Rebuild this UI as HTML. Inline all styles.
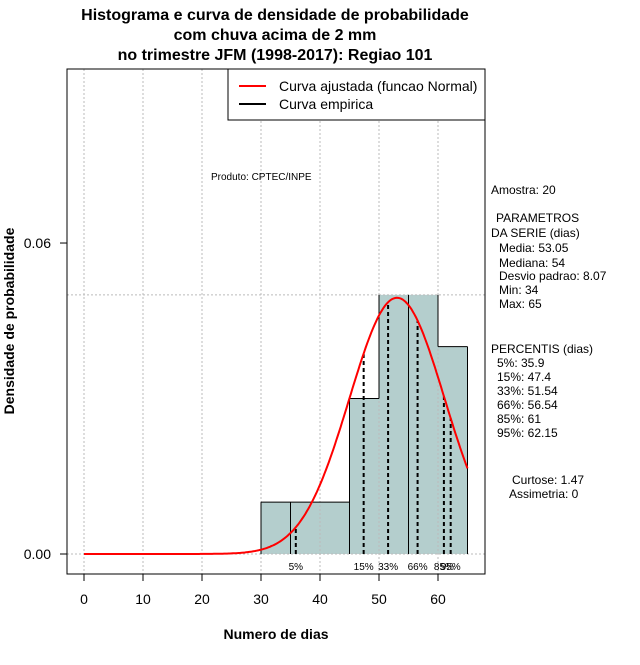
<!DOCTYPE html>
<html><head><meta charset="utf-8"><style>
body{margin:0;background:#fff;}
svg text{font-family:"Liberation Sans",sans-serif;}
</style></head><body>
<svg width="640" height="660" xmlns="http://www.w3.org/2000/svg">
<g id="bars"></g>
<g id="grid"></g>
<g id="edges"></g>
<g id="pct"></g>
<path id="curve" fill="none" stroke="#ff0000" stroke-width="2"/>
<rect x="67" y="69" width="418" height="505" fill="none" stroke="#000"/>
<g id="axes"></g>
<g font-weight="bold" font-size="16" text-anchor="middle">
<text x="275" y="20">Histograma e curva de densidade de probabilidade</text>
<text x="275" y="40">com chuva acima de 2 mm</text>
<text x="275" y="60">no trimestre JFM (1998-2017): Regiao 101</text>
</g>
<text x="276" y="639" font-size="14" font-weight="bold" text-anchor="middle">Numero de dias</text>
<text transform="translate(14,321) rotate(-90)" font-size="14" font-weight="bold" text-anchor="middle">Densidade de probabilidade</text>
<g>
<rect x="228" y="69" width="257" height="51" fill="#fff" stroke="#000"/>
<line x1="239" y1="86" x2="266" y2="86" stroke="#ff0000" stroke-width="2"/>
<line x1="239" y1="104" x2="266" y2="104" stroke="#000" stroke-width="2"/>
<text x="279" y="91" font-size="14">Curva ajustada (funcao Normal)</text>
<text x="279" y="109" font-size="14">Curva empirica</text>
</g>
<text x="211" y="180" font-size="10">Produto: CPTEC/INPE</text>
<g font-size="12">
<text x="491" y="194">Amostra: 20</text>
<text x="496" y="222">PARAMETROS</text>
<text x="491" y="237">DA SERIE (dias)</text>
<text x="499" y="252">Media: 53.05</text>
<text x="499" y="267">Mediana: 54</text>
<text x="499" y="280">Desvio padrao: 8.07</text>
<text x="499" y="294">Min: 34</text>
<text x="499" y="308">Max: 65</text>
<text x="491" y="353">PERCENTIS (dias)</text>
<text x="497" y="367">5%: 35.9</text>
<text x="497" y="381">15%: 47.4</text>
<text x="497" y="395">33%: 51.54</text>
<text x="497" y="409">66%: 56.54</text>
<text x="497" y="423">85%: 61</text>
<text x="497" y="437">95%: 62.15</text>
<text x="512" y="484">Curtose: 1.47</text>
<text x="509" y="498">Assimetria: 0</text>
</g>
</svg>
<script>
const binStarts=[30,35,40,45,50,55,60];
const binDens=[0.01,0.01,0.01,0.03,0.05,0.05,0.04];
const binWidth=5;
const pctValues=[35.9,47.4,51.54,56.54,61,62.15];
const pctLabels=["5%","15%","33%","66%","85%","95%"];
const xTicks=[0,10,20,30,40,50,60];
const yTicks=[0,0.06];
const yTickLabels=["0.00","0.06"];
const mean=53.05, sd=8.07;
const NS="http://www.w3.org/2000/svg";
const X=v=>84+v*5.9, Y=v=>554-v*5183;
const pdf=v=>Math.exp(-0.5*((v-mean)/sd)**2)/(sd*Math.sqrt(2*Math.PI));
function mk(p,t,a){const e=document.createElementNS(NS,t);for(const k in a)e.setAttribute(k,a[k]);p.appendChild(e);return e;}
const bars=document.getElementById('bars');
binStarts.forEach((s,i)=>{const r=mk(bars,'rect',{x:X(s),y:Y(binDens[i]),width:X(s+binWidth)-X(s),height:Y(0)-Y(binDens[i]),fill:'#b4cecd',stroke:'none'});

});
const grid=document.getElementById('grid');
xTicks.forEach(t=>{const l=mk(grid,'line',{x1:X(t),x2:X(t),y1:69,y2:574,stroke:'#bbb','stroke-dasharray':'2,2'});

});
[0,0.05].forEach(t=>{const l=mk(grid,'line',{x1:67,x2:485,y1:Y(t),y2:Y(t),stroke:'#bbb','stroke-dasharray':'2,2'});

});
const edges=document.getElementById('edges');
const onGrid=v=>Math.abs(v%10)<1e-9 && v>30;
binStarts.forEach((s,i)=>{
  const e=s+binWidth, h=binDens[i];
  const prev=i>0?binDens[i-1]:0;
  // left edge: from y of max(prev,h) down; draw portion above prev fully, full if not on grid
  if(!onGrid(s)) mk(edges,'line',{x1:X(s),x2:X(s),y1:Y(Math.max(h,prev)),y2:Y(0),stroke:'#000'});
  else if(h!==prev) mk(edges,'line',{x1:X(s),x2:X(s),y1:Y(Math.max(h,prev)),y2:Y(Math.min(h,prev)),stroke:'#000'});
  if(i===binStarts.length-1) mk(edges,'line',{x1:X(e),x2:X(e),y1:Y(h),y2:Y(0),stroke:'#000'});
  if(Math.abs(h-0.05)>1e-9) mk(edges,'line',{x1:X(s),x2:X(e),y1:Y(h),y2:Y(h),stroke:'#000'});
});
let d='';for(let v=0;v<=65.001;v+=0.25){d+=(v?'L':'M')+X(v).toFixed(1)+','+Y(pdf(v)).toFixed(1);}
document.getElementById('curve').setAttribute('d',d);
const pg=document.getElementById('pct');
pctValues.forEach((v,i)=>{const l=mk(pg,'line',{x1:X(v),x2:X(v),y1:Y(0),y2:Y(pdf(v)),stroke:'#000','stroke-width':2,'stroke-dasharray':'4,3'});


const t=mk(pg,'text',{x:X(v),y:570,'font-size':10,'text-anchor':'middle'});t.textContent=pctLabels[i];

});
const ax=document.getElementById('axes');
mk(ax,'line',{x1:X(0),x2:X(60),y1:574,y2:574,stroke:'#000'});
xTicks.forEach(t=>{mk(ax,'line',{x1:X(t),x2:X(t),y1:574,y2:581,stroke:'#000'});
const e=mk(ax,'text',{x:X(t),y:604,'font-size':14,'text-anchor':'middle'});e.textContent=t;

});
yTicks.forEach((t,i)=>{mk(ax,'line',{x1:60,x2:67,y1:Y(t),y2:Y(t),stroke:'#000'});
const e=mk(ax,'text',{x:51,y:Y(t)+5,'font-size':14,'text-anchor':'end'});e.textContent=yTickLabels[i];

});
</script>
</body></html>
